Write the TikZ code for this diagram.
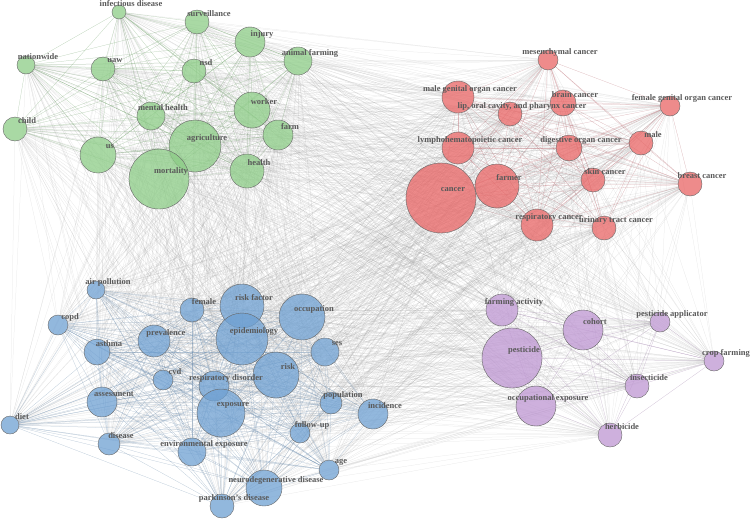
\documentclass[tikz,border=0pt]{standalone}
\usepackage{fontspec}
\setmainfont{Liberation Serif}
\usetikzlibrary{backgrounds}
\definecolor{gfill}{RGB}{140,204,134}
\definecolor{rfill}{RGB}{232,100,100}
\definecolor{bfill}{RGB}{110,160,210}
\definecolor{pfill}{RGB}{190,150,210}
\definecolor{gedge}{RGB}{90,170,80}
\definecolor{redge}{RGB}{210,90,100}
\definecolor{bedge}{RGB}{90,140,190}
\definecolor{pedge}{RGB}{160,110,180}

\tikzset{
  kw/.style={circle,draw=black!60,fill opacity=0.75,inner sep=0pt},
  kwlabel/.style={text=black!65,font=\fontsize{8.5}{9}\selectfont\bfseries},
  edge/.style={black!40,line width=0.25pt,opacity=0.12},
}
% \kw{name}{x}{y}{radius}{colour}{label}
\newcommand{\kw}[6]{%
  \node[kw,fill=#5,minimum size=2*#4pt] (#1) at (#2,#3) {};
  \node[kwlabel] at (#2+12,#3-8) {#6};}

\begin{document}
\begin{tikzpicture}[x=1pt,y=-1pt]
\useasboundingbox (0,0) rectangle (750,520);

% green cluster
\kw{g1}{119}{12}{7}{gfill}{infectious disease}
\kw{g2}{197}{22}{12}{gfill}{surveillance}
\kw{g3}{250}{42}{15}{gfill}{injury}
\kw{g4}{298}{61}{14}{gfill}{animal farming}
\kw{g5}{26}{65}{9}{gfill}{nationwide}
\kw{g6}{103}{69}{12}{gfill}{uaw}
\kw{g7}{194}{71}{12}{gfill}{nsd}
\kw{g8}{151}{116}{14}{gfill}{mental health}
\kw{g9}{252}{110}{18}{gfill}{worker}
\kw{g10}{15}{129}{12}{gfill}{child}
\kw{g11}{278}{135}{15}{gfill}{farm}
\kw{g12}{195}{146}{26}{gfill}{agriculture}
\kw{g13}{98}{155}{18}{gfill}{us}
\kw{g14}{247}{171}{17}{gfill}{health}
\kw{g15}{159}{179}{30}{gfill}{mortality}

% red cluster
\kw{r1}{548}{60}{10}{rfill}{mesenchymal cancer}
\kw{r2}{458}{97}{16}{rfill}{male genital organ cancer}
\kw{r3}{563}{103}{13}{rfill}{brain cancer}
\kw{r4}{510}{114}{12}{rfill}{lip, oral cavity, and pharynx cancer}
\kw{r5}{670}{106}{10}{rfill}{female genital organ cancer}
\kw{r6}{458}{148}{16}{rfill}{lymphohematopoietic cancer}
\kw{r7}{569}{148}{13}{rfill}{digestive organ cancer}
\kw{r8}{641}{143}{12}{rfill}{male}
\kw{r9}{441}{198}{35}{rfill}{cancer}
\kw{r10}{497}{186}{22}{rfill}{farmer}
\kw{r11}{593}{180}{12}{rfill}{skin cancer}
\kw{r12}{690}{184}{12}{rfill}{breast cancer}
\kw{r13}{537}{225}{16}{rfill}{respiratory cancer}
\kw{r14}{604}{228}{12}{rfill}{urinary tract cancer}

% blue cluster
\kw{b1}{96}{290}{9}{bfill}{air pollution}
\kw{b2}{192}{310}{12}{bfill}{female}
\kw{b3}{242}{306}{22}{bfill}{risk factor}
\kw{b4}{302}{317}{23}{bfill}{occupation}
\kw{b5}{58}{325}{10}{bfill}{copd}
\kw{b6}{154}{341}{16}{bfill}{prevalence}
\kw{b7}{242}{339}{26}{bfill}{epidemiology}
\kw{b8}{97}{352}{13}{bfill}{asthma}
\kw{b9}{325}{352}{14}{bfill}{ses}
\kw{b10}{276}{375}{23}{bfill}{risk}
\kw{b11}{163}{380}{10}{bfill}{cvd}
\kw{b12}{214}{386}{15}{bfill}{respiratory disorder}
\kw{b13}{102}{402}{15}{bfill}{assessment}
\kw{b14}{221}{413}{24}{bfill}{exposure}
\kw{b15}{331}{403}{11}{bfill}{population}
\kw{b16}{373}{414}{15}{bfill}{incidence}
\kw{b17}{10}{425}{9}{bfill}{diet}
\kw{b18}{300}{433}{10}{bfill}{follow-up}
\kw{b19}{109}{444}{11}{bfill}{disease}
\kw{b20}{192}{452}{14}{bfill}{environmental exposure}
\kw{b21}{329}{470}{10}{bfill}{age}
\kw{b22}{264}{488}{18}{bfill}{neurodegenerative disease}
\kw{b23}{222}{506}{12}{bfill}{parkinson's disease}

% purple cluster
\kw{p1}{502}{310}{16}{pfill}{farming activity}
\kw{p2}{583}{330}{20}{pfill}{cohort}
\kw{p3}{660}{322}{10}{pfill}{pesticide applicator}
\kw{p4}{512}{358}{30}{pfill}{pesticide}
\kw{p5}{714}{361}{10}{pfill}{crop farming}
\kw{p6}{637}{386}{12}{pfill}{insecticide}
\kw{p7}{536}{406}{20}{pfill}{occupational exposure}
\kw{p8}{610}{435}{12}{pfill}{herbicide}

\begin{scope}[on background layer]
  % links between clusters
  \foreach \a in {g1,g2,g3,g4,g5,g6,g7,g8,g9,g10,g11,g12,g13,g14,g15,r1,r2,r3,r4,r5,r6,r7,r8,r9,r10,r11,r12,r13,r14,b1,b2,b3,b4,b5,b6,b7,b8,b9,b10,b11,b12,b13,b14,b15,b16,b17,b18,b19,b20,b21,b22,b23,p1,p2,p3,p4,p5,p6,p7,p8}
    \foreach \b in {g1,g2,g3,g4,g5,g6,g7,g8,g9,g10,g11,g12,g13,g14,g15,r1,r2,r3,r4,r5,r6,r7,r8,r9,r10,r11,r12,r13,r14,b1,b2,b3,b4,b5,b6,b7,b8,b9,b10,b11,b12,b13,b14,b15,b16,b17,b18,b19,b20,b21,b22,b23,p1,p2,p3,p4,p5,p6,p7,p8}
      \draw[edge] (\a) -- (\b);
  % links inside clusters
  \foreach \i in {1,...,15} \foreach \j in {\i,...,15}
    \draw[edge,gedge,opacity=0.3] (g\i) -- (g\j);
  \foreach \i in {1,...,14} \foreach \j in {\i,...,14}
    \draw[edge,redge,opacity=0.3] (r\i) -- (r\j);
  \foreach \i in {1,...,23} \foreach \j in {\i,...,23}
    \draw[edge,bedge,opacity=0.3] (b\i) -- (b\j);
  \foreach \i in {1,...,8} \foreach \j in {\i,...,8}
    \draw[edge,pedge,opacity=0.3] (p\i) -- (p\j);
\end{scope}
\end{tikzpicture}
\end{document}
